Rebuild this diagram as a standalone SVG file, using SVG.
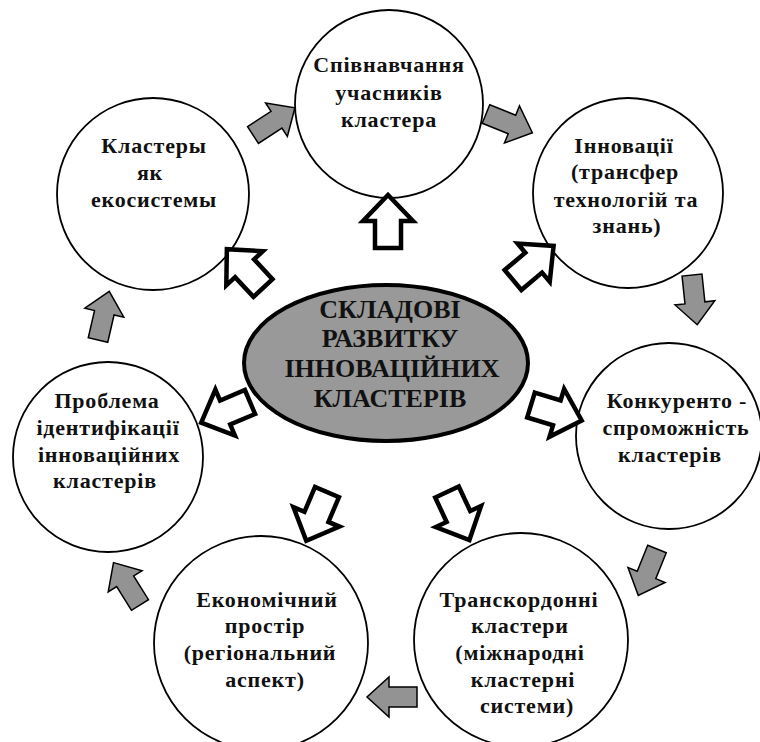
<svg xmlns="http://www.w3.org/2000/svg" width="760" height="742" viewBox="0 0 760 742">
<style>
.node{fill:#fff;stroke:#000;stroke-width:1.8}
.t{font-family:"Liberation Serif","Times New Roman",serif;font-weight:bold;font-size:22px;letter-spacing:0.8px;text-anchor:middle;fill:#111}
.ct{font-family:"Liberation Serif","Times New Roman",serif;font-weight:bold;font-size:26px;text-anchor:middle;fill:#111}
.ga{fill:#939393;stroke:#000;stroke-width:1.5;stroke-linejoin:miter}
.ha{fill:#fff;stroke:#000;stroke-width:4.5;stroke-linejoin:miter}
</style>
<defs>
<polygon id="garr" points="0,-10 28,-10 28,-20 50,0 28,20 28,10 0,10"/>
<polygon id="harr" points="0,-13 27,-13 27,-25 53,0 27,25 27,13 0,13"/>
</defs>
<rect width="760" height="742" fill="#fff"/>
<g id="center">
<ellipse cx="386" cy="363" rx="142" ry="78" fill="#999" stroke="#000" stroke-width="4"/>
<text class="ct" x="390" y="318">СКЛАДОВІ</text>
<text class="ct" x="390" y="347">РАЗВИТКУ</text>
<text class="ct" x="392" y="377">ІННОВАЦІЙНИХ</text>
<text class="ct" x="390" y="407">КЛАСТЕРІВ</text>
</g>
<g id="n1">
<circle class="node" cx="389" cy="104" r="94"/>
<text class="t" x="389" y="72">Співнавчання</text>
<text class="t" x="389" y="100">учасників</text>
<text class="t" x="389" y="127">кластера</text>
</g>
<g id="n2">
<circle class="node" cx="153" cy="194" r="96"/>
<text class="t" x="154" y="153">Кластеры</text>
<text class="t" x="150" y="180">як</text>
<text class="t" x="154" y="207">екосистемы</text>
</g>
<g id="n3">
<circle class="node" cx="628" cy="193" r="95"/>
<text class="t" x="624" y="153">Інновації</text>
<text class="t" x="625" y="179">(трансфер</text>
<text class="t" x="626" y="207">технологій та</text>
<text class="t" x="627" y="233">знань)</text>
</g>
<g id="n4">
<circle class="node" cx="108" cy="457" r="95"/>
<text class="t" x="107" y="408">Проблема</text>
<text class="t" x="108" y="435">ідентифікації</text>
<text class="t" x="109" y="462">інноваційних</text>
<text class="t" x="105" y="488">кластерів</text>
</g>
<g id="n5">
<circle class="node" cx="669" cy="436" r="93"/>
<text class="t" x="677" y="408">Конкуренто -</text>
<text class="t" x="676" y="435">спроможність</text>
<text class="t" x="670" y="462">кластерів</text>
</g>
<g id="n6">
<circle class="node" cx="261" cy="643" r="107"/>
<text class="t" x="267" y="607">Економічний</text>
<text class="t" x="265" y="633">простір</text>
<text class="t" x="260" y="660">(регіональний</text>
<text class="t" x="265" y="687">аспект)</text>
</g>
<g id="n7">
<circle class="node" cx="521" cy="640" r="107"/>
<text class="t" x="519" y="607">Транскордонні</text>
<text class="t" x="520" y="633">кластери</text>
<text class="t" x="520" y="660">(міжнародні</text>
<text class="t" x="523" y="687">кластерні</text>
<text class="t" x="527" y="713">системи)</text>
</g>
<g id="connectors">
<use href="#garr" class="ga" transform="translate(253,135) rotate(-33)"/>
<use href="#garr" class="ga" transform="translate(486,114) rotate(22)"/>
<use href="#garr" class="ga" transform="translate(692,275) rotate(84)"/>
<use href="#garr" class="ga" transform="translate(657,549) rotate(112)"/>
<use href="#garr" class="ga" transform="translate(417,697) rotate(180)"/>
<use href="#garr" class="ga" transform="translate(140,605) rotate(-122)"/>
<use href="#garr" class="ga" transform="translate(98,340) rotate(-77)"/>
<use href="#harr" class="ha" transform="translate(388,248) rotate(-90)"/>
<use href="#harr" class="ha" transform="translate(263,288) rotate(-133)"/>
<use href="#harr" class="ha" transform="translate(513,280) rotate(-40)"/>
<use href="#harr" class="ha" transform="translate(250,402) rotate(157)"/>
<use href="#harr" class="ha" transform="translate(531,405) rotate(17)"/>
<use href="#harr" class="ha" transform="translate(327,492) rotate(113)"/>
<use href="#harr" class="ha" transform="translate(447,492) rotate(65)"/>
</g>
</svg>
